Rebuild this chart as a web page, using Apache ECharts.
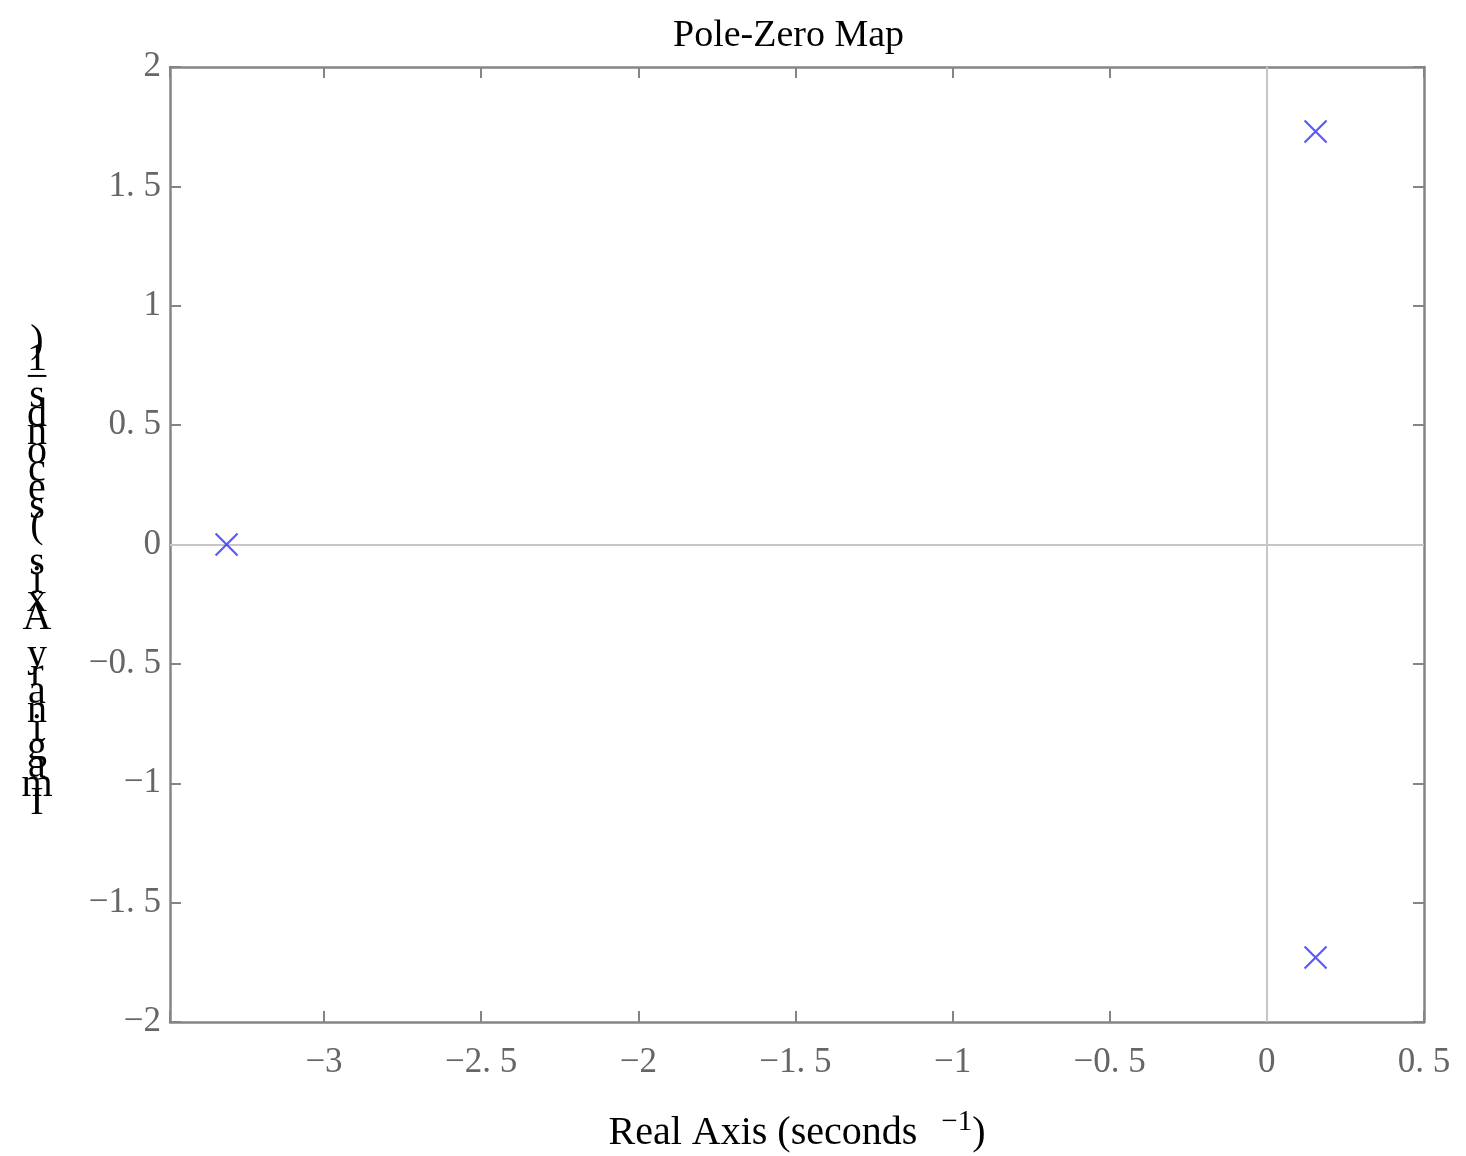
<!DOCTYPE html>
<html>
<head>
<meta charset="utf-8">
<title>Pole-Zero Map</title>
<script src="https://cdn.jsdelivr.net/npm/echarts@6/dist/echarts.min.js"></script>
<style>
  html, body { margin: 0; padding: 0; background: #fff; }
  #chart { width: 1466px; height: 1156px; }
</style>
</head>
<body>
<div id="chart"></div>
<script>
// poles (real part, imaginary part)
const poleRe = [-3.31, 0.155, 0.155];
const poleIm = [0, 1.73, -1.73];

const xRange = [-3.49, 0.5];
const yRange = [-2, 2];

const titleText = 'Pole-Zero Map';
const yName = 'Imaginary Axis (seconds\u22121)';

const serif = '"Liberation Serif", "DejaVu Serif", serif';
const boxColor = '#858585';

// tick labels look like "−0. 5" in the picture
function tickText(v) {
    if (Math.abs(v * 2 - Math.round(v * 2)) > 1e-6) return '';
    let s = String(Math.round(v * 10) / 10);
    return s.replace('-', '\u2212').replace('.', '. ');
}

// the y name is stacked one upright char per line, read bottom-up
// (a few blank lines on top push the stack down a little)
const yNameStacked = [' ', ' ', ' '].concat(yName.split('').reverse()).join('\n');

function frameAxis(extra) {
    return Object.assign({
        type: 'value',
        axisLine: { show: true, onZero: false, lineStyle: { color: boxColor, width: 2.5 } },
        axisTick: { show: true, inside: true, length: 11, lineStyle: { color: boxColor, width: 2 } },
        splitLine: { show: false },
    }, extra);
}

const chart = echarts.init(document.getElementById('chart'));
const option = {
    backgroundColor: '#fff',
    animation: false,
    title: {
        text: titleText,
        left: 668,
        top: 12,
        textStyle: { fontFamily: serif, fontSize: 38, fontWeight: 'normal', color: '#000' }
    },
    grid: { left: 170, right: 42, top: 67, bottom: 134, outerBoundsMode: 'none', containLabel: false },
    xAxis: [
        frameAxis({
            position: 'bottom',
            min: xRange[0], max: xRange[1], splitNumber: 8,
            axisLabel: {
                formatter: tickText, margin: 23,
                fontFamily: serif, fontSize: 35, color: '#666'
            },
            name: 'Real Axis (seconds {sup|\u22121})',
            nameLocation: 'middle',
            nameGap: 86,
            nameTextStyle: {
                fontFamily: serif, fontSize: 40, color: '#000',
                rich: { sup: { fontFamily: serif, fontSize: 29, color: '#000', padding: [0, 0, 22, 14] } }
            }
        }),
        frameAxis({
            position: 'top',
            min: xRange[0], max: xRange[1], splitNumber: 8,
            axisLabel: { show: false }
        })
    ],
    yAxis: [
        frameAxis({
            position: 'left',
            min: yRange[0], max: yRange[1], interval: 0.5,
            axisLabel: {
                formatter: tickText, margin: 9,
                fontFamily: serif, fontSize: 35, color: '#666'
            },
            name: yNameStacked,
            nameLocation: 'middle',
            nameRotate: 0,
            nameGap: 133,
            nameTextStyle: {
                fontFamily: serif, fontSize: 40, color: '#000',
                align: 'center', lineHeight: 18.5
            }
        }),
        frameAxis({
            position: 'right',
            min: yRange[0], max: yRange[1], interval: 0.5,
            axisLabel: { show: false }
        })
    ],
    series: [
        {
            type: 'scatter',
            xAxisIndex: 0,
            yAxisIndex: 0,
            symbol: 'path://M0,0L10,10M10,0L0,10',
            symbolSize: 22,
            itemStyle: { color: 'none', borderColor: '#2f2fff', borderWidth: 2.2 },
            data: poleRe.map((re, i) => [re, poleIm[i]]),
            markLine: {
                silent: true,
                symbol: 'none',
                label: { show: false },
                lineStyle: { color: '#c6c6c6', width: 2, type: 'solid' },
                data: [{ xAxis: 0 }, { yAxis: 0 }]
            },
            z: 5
        }
    ]
};
chart.setOption(option);
</script>
</body>
</html>
